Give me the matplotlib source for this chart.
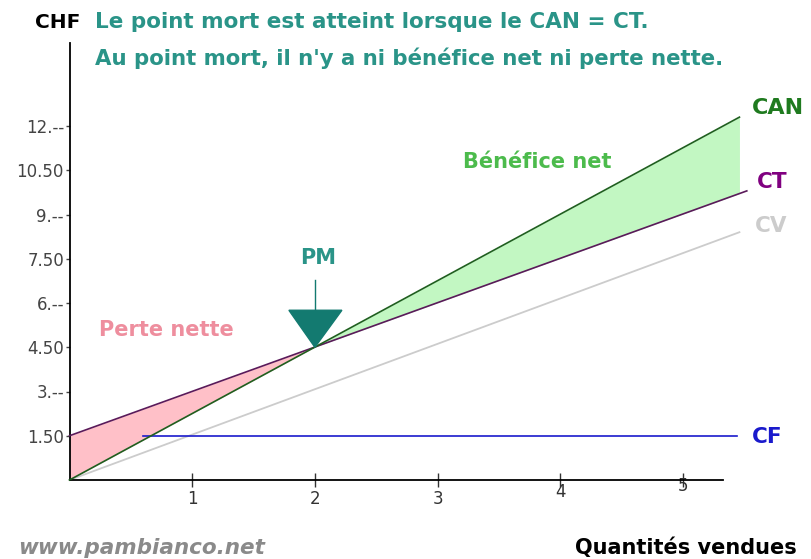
import matplotlib
matplotlib.use('Agg')
import matplotlib.pyplot as plt
import matplotlib.transforms as mtransforms
from matplotlib.patches import Polygon
import numpy as np

# ---- data ----
can_q = [0.0, 5.46]
can_v = [0.0, 12.3]
ct_q = [0.0, 5.52]
ct_v = [1.5, 9.8]
cv_q = [0.0, 5.46]
cv_v = [0.0, 8.4]
cf_q = [0.6, 5.44]
cf_v = [1.5, 1.5]
pm_q, pm_v = 2.0, 4.5

x_ticks = [1, 2, 3, 4, 5]
x_ticklabels = ['1', '2', '3', '4', '5']
y_ticks = [1.5, 3, 4.5, 6, 7.5, 9, 10.5, 12]
y_ticklabels = ['1.50', '3.--', '4.50', '6.--', '7.50', '9.--', '10.50', '12.--']

plt.rcParams['font.family'] = ['DejaVu Sans']

W, H = 811, 559
fig = plt.figure(figsize=(W / 100, H / 100), dpi=100)
fig.patch.set_facecolor('white')

px_x, px_y = 122.7, 29.5
x0, y0 = 69.5, 480
xmax, ymax = 5.7, 14.8
ax = fig.add_axes([x0 / W, (H - y0) / H, xmax * px_x / W, ymax * px_y / H])
ax.set_xlim(0, xmax)
ax.set_ylim(0, ymax)
ax.patch.set_alpha(0)

for s in ['top', 'right']:
    ax.spines[s].set_visible(False)
ax.spines['left'].set_linewidth(1.3)
ax.spines['bottom'].set_linewidth(1.3)
ax.spines['bottom'].set_bounds(0, 5.33)

# fills
qp = np.array([0.0, pm_q])
ax.fill_between(qp, np.interp(qp, can_q, can_v), np.interp(qp, ct_q, ct_v),
                color='#ffc0c8', lw=0, zorder=1)
qg = np.array([pm_q, can_q[1]])
ax.fill_between(qg, np.interp(qg, can_q, can_v), np.interp(qg, ct_q, ct_v),
                color='#c2f7c2', lw=0, zorder=1)

# lines
ax.plot(cv_q, cv_v, color='#cccccc', lw=1.3, zorder=2, clip_on=False)
ax.plot(cf_q, cf_v, color='#1a1acc', lw=1.2, zorder=2, clip_on=False)
ax.plot(ct_q, ct_v, color='#5a1a5a', lw=1.2, zorder=3, clip_on=False)
ax.plot(can_q, can_v, color='#1f5f1f', lw=1.2, zorder=4, clip_on=False)

# ticks
ax.set_xticks(x_ticks)
ax.set_xticklabels(x_ticklabels)
ax.set_yticks(y_ticks)
ax.set_yticklabels(y_ticklabels)
ax.tick_params(axis='x', direction='inout', length=10, width=1.0, colors='#333333',
               labelsize=12, pad=2)
ax.tick_params(axis='y', direction='out', length=3, width=1.0, colors='#444444',
               labelsize=12, pad=1)
xt = ax.xaxis.get_major_ticks()
xt[3].set_pad(-3)
xt[4].set_pad(-7)

# PM marker
trans = fig.dpi_scale_trans + mtransforms.ScaledTranslation(pm_q, pm_v, ax.transData)
tri = Polygon([(0, 0), (-0.26, 0.37), (0.27, 0.37)], closed=True,
              facecolor='#137a70', edgecolor='#137a70', transform=trans, zorder=5)
ax.add_patch(tri)
ax.plot([0, 0], [0.37, 0.67], color='#137a70', lw=1.0, transform=trans, zorder=5)


def ftext(x, y, s, **kw):
    fig.text(x / W, 1 - y / H, s, **kw)


teal = '#2a9488'
ftext(35, 22, 'CHF', fontsize=14.5, fontweight='bold', color='black', va='center')
ftext(95, 22, 'Le point mort est atteint lorsque le CAN = CT.', fontsize=15.5,
      fontweight='bold', color=teal, va='center')
ftext(95, 58, "Au point mort, il n'y a ni bénéfice net ni perte nette.", fontsize=15.3,
      fontweight='bold', color=teal, va='center')
ftext(318, 258, 'PM', fontsize=15, fontweight='bold', color=teal, ha='center', va='center')
ftext(537, 162, 'Bénéfice net', fontsize=15, fontweight='bold', color='#4cbb4c',
      ha='center', va='center')
ftext(166, 330, 'Perte nette', fontsize=15, fontweight='bold', color='#ee8e9e',
      ha='center', va='center')
ftext(752, 108, 'CAN', fontsize=16, fontweight='bold', color='#1f7a1f', va='center')
ftext(757, 182, 'CT', fontsize=15.5, fontweight='bold', color='#800080', va='center')
ftext(755, 226, 'CV', fontsize=15.5, fontweight='bold', color='#cccccc', va='center')
ftext(752, 437, 'CF', fontsize=15.5, fontweight='bold', color='#1a1acc', va='center')
ftext(797, 548, 'Quantités vendues', fontsize=15, fontweight='bold', color='black',
      ha='right', va='center')
ftext(18, 548, 'www.pambianco.net', fontsize=15.5, fontweight='bold', style='italic',
      color='#8a8a8a', va='center')

fig.savefig('out.png', dpi=100)
